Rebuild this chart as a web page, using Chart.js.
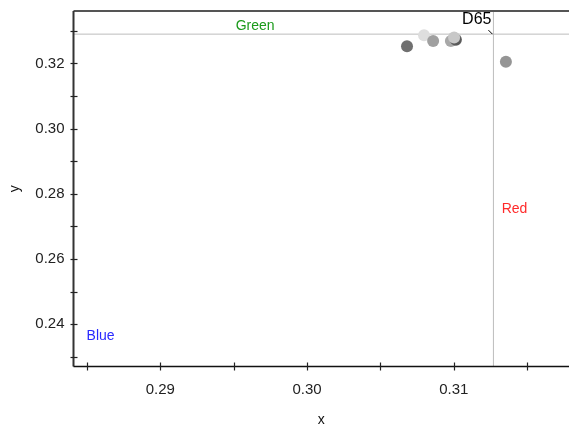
<!DOCTYPE html>
<html>
<head>
<meta charset="utf-8">
<script src="https://cdn.jsdelivr.net/npm/chart.js@4"></script>
<style>
  html, body { margin: 0; padding: 0; background: #fff; overflow: hidden; }
  canvas { display: block; }
</style>
</head>
<body>
<canvas id="chart" width="569" height="425" style="width:569px;height:425px"></canvas>
<script>
Chart.defaults.font.family = '"Liberation Sans", Arial, sans-serif';
Chart.defaults.color = '#222';

// chromaticity points (x, y) and their grey shades
const pointX = [0.30681, 0.30797, 0.30859, 0.30980, 0.31014, 0.31002, 0.31355];
const pointY = [0.32529, 0.32866, 0.32691, 0.32691, 0.32728, 0.32795, 0.32049];
const pointColors = ['#707070', '#dedede', '#a0a0a0', '#a8a8a8', '#5a5a5a', '#c8c8c8', '#959595'];

// D65 white point
const whiteX = 0.3127;
const whiteY = 0.3290;

// axis ranges and ticks
const xRange = [0.28408, 0.31785];
const yRange = [0.2270, 0.3361];
const xTicks = [0.285, 0.29, 0.295, 0.30, 0.305, 0.31, 0.315];
const xLabels = ['', '0.29', '', '0.30', '', '0.31', ''];
const yTicks = [0.23, 0.24, 0.25, 0.26, 0.27, 0.28, 0.29, 0.30, 0.31, 0.32, 0.33];
const yLabels = ['', '0.24', '', '0.26', '', '0.28', '', '0.30', '', '0.32', ''];

// text annotations in data coordinates
const noteText = ['Green', 'Red', 'Blue'];
const noteX = [0.29646, 0.31326, 0.28497];
const noteY = [0.3292, 0.27514, 0.23633];
const noteColors = ['#1a9a1a', '#ff2a2a', '#2a2aff'];

const points = pointX.map((x, i) => ({ x: x, y: pointY[i] }));

// tick marks crossing the axes + annotation text
const extras = {
    id: 'extras',
    afterDraw(chart) {
        const ctx = chart.ctx;
        const area = chart.chartArea;
        const xs = chart.scales.x, ys = chart.scales.y;
        ctx.save();
        // frame
        ctx.strokeStyle = '#555';
        ctx.lineWidth = 2;
        ctx.beginPath();
        ctx.moveTo(area.left, area.top);
        ctx.lineTo(area.right, area.top);
        ctx.stroke();
        ctx.strokeStyle = '#333';
        ctx.beginPath();
        ctx.moveTo(area.left, area.top);
        ctx.lineTo(area.left, area.bottom);
        ctx.stroke();
        ctx.strokeStyle = '#111';
        ctx.lineWidth = 1.5;
        ctx.beginPath();
        ctx.moveTo(area.left, area.bottom);
        ctx.lineTo(area.right, area.bottom);
        ctx.stroke();
        // ticks
        ctx.lineWidth = 1.2;
        ctx.strokeStyle = '#222';
        xTicks.forEach(v => {
            const px = Math.round(xs.getPixelForValue(v)) + 0.5;
            ctx.beginPath();
            ctx.moveTo(px, area.bottom - 4);
            ctx.lineTo(px, area.bottom + 4);
            ctx.stroke();
        });
        yTicks.forEach(v => {
            const py = Math.round(ys.getPixelForValue(v)) + 0.5;
            ctx.beginPath();
            ctx.moveTo(area.left - 3, py);
            ctx.lineTo(area.left + 4, py);
            ctx.stroke();
        });
        // labels
        ctx.font = '14px "Liberation Sans", Arial, sans-serif';
        noteText.forEach((t, i) => {
            ctx.fillStyle = noteColors[i];
            ctx.textAlign = i === 0 ? 'center' : 'left';
            ctx.textBaseline = i === 0 ? 'bottom' : 'middle';
            ctx.fillText(t, xs.getPixelForValue(noteX[i]), ys.getPixelForValue(noteY[i]));
        });
        // D65 label with short leader
        const wx = xs.getPixelForValue(whiteX), wy = ys.getPixelForValue(whiteY);
        ctx.fillStyle = '#000';
        ctx.font = '16px "Liberation Sans", Arial, sans-serif';
        ctx.textAlign = 'right';
        ctx.textBaseline = 'alphabetic';
        ctx.fillText('D65', wx - 2, wy - 10);
        ctx.strokeStyle = '#000';
        ctx.lineWidth = 1;
        ctx.beginPath();
        ctx.moveTo(wx - 5, wy - 4);
        ctx.lineTo(wx - 1, wy);
        ctx.stroke();
        ctx.restore();
    }
};

new Chart(document.getElementById('chart'), {
    type: 'scatter',
    data: {
        datasets: [{
            type: 'line',
            data: [{ x: xRange[0], y: whiteY }, { x: xRange[1], y: whiteY }],
            borderColor: '#bdbdbd',
            borderWidth: 1,
            pointRadius: 0,
            order: 3
        }, {
            type: 'line',
            data: [{ x: whiteX, y: yRange[0] }, { x: whiteX, y: yRange[1] }],
            borderColor: '#bdbdbd',
            borderWidth: 1,
            pointRadius: 0,
            order: 3
        }, {
            data: points,
            backgroundColor: pointColors,
            borderWidth: 0,
            pointRadius: 6,
            pointHoverRadius: 6,
            order: 1
        }]
    },
    options: {
        responsive: false,
        animation: false,
        layout: { autoPadding: false, padding: { top: 11, right: 0, left: 0, bottom: 0 } },
        plugins: { legend: { display: false }, tooltip: { enabled: false } },
        scales: {
            x: {
                type: 'linear',
                min: xRange[0],
                max: xRange[1],
                afterBuildTicks: s => { s.ticks = xTicks.map(v => ({ value: v })); },
                afterFit: s => {
                    s.height = 58.5;
                    s.paddingLeft = 0; s.paddingRight = 0;
                },
                grid: { display: false, drawTicks: false },
                border: { display: false },
                ticks: {
                    autoSkip: false,
                    maxRotation: 0,
                    padding: 14,
                    font: { size: 15 },
                    color: '#222',
                    callback: (v, i) => xLabels[i]
                },
                title: { display: true, text: 'x', font: { size: 14, lineHeight: 0.7 }, color: '#111', padding: { top: 0, bottom: 0 } }
            },
            y: {
                type: 'linear',
                min: yRange[0],
                max: yRange[1],
                afterBuildTicks: s => { s.ticks = yTicks.map(v => ({ value: v })); },
                afterFit: s => {
                    s.width = 73.5;
                    s.paddingTop = 0; s.paddingBottom = 0;
                },
                grid: { display: false, drawTicks: false },
                border: { display: false },
                ticks: {
                    autoSkip: false,
                    padding: 9,
                    font: { size: 15 },
                    color: '#222',
                    callback: (v, i) => yLabels[i]
                },
                title: { display: true, text: 'y', font: { size: 14, lineHeight: 0.7 }, color: '#111', padding: { top: 10, bottom: 0 } }
            }
        }
    },
    plugins: [extras]
});
</script>
</body>
</html>
